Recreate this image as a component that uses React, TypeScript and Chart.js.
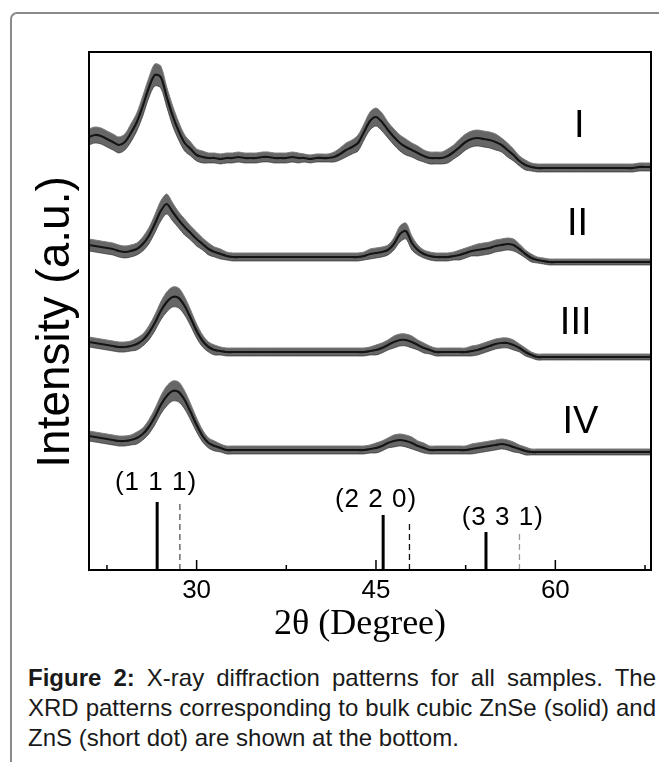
import React, { useEffect, useRef } from "react";
import { Chart, registerables } from "chart.js";

Chart.register(...registerables);

// 2θ sampling positions (degree)
const angles = [
  21, 21.5, 22, 22.5, 23, 23.5, 24, 24.5, 25, 25.5,
  26, 26.5, 27, 27.5, 28, 28.5, 29, 29.5, 30, 30.5,
  31, 31.5, 32, 32.5, 33, 33.5, 34, 34.5, 35, 35.5,
  36, 36.5, 37, 37.5, 38, 38.5, 39, 39.5, 40, 40.5,
  41, 41.5, 42, 42.5, 43, 43.5, 44, 44.5, 45, 45.5,
  46, 46.5, 47, 47.5, 48, 48.5, 49, 49.5, 50, 50.5,
  51, 51.5, 52, 52.5, 53, 53.5, 54, 54.5, 55, 55.5,
  56, 56.5, 57, 57.5, 58, 58.5, 59, 59.5, 60, 60.5,
  61, 61.5, 62, 62.5, 63, 63.5, 64, 64.5, 65, 65.5,
  66, 66.5, 67, 67.5, 68,
];

// Intensity (a.u., stacked offsets included) for samples I–IV
const sampleI = [
  433, 435, 434, 431, 428, 425, 428, 437, 448, 464,
  482, 495, 493, 473, 454, 439, 427, 421, 415, 413,
  412, 412, 411, 412, 412, 413, 412, 412, 412, 413,
  413, 412, 412, 412, 413, 412, 412, 411, 412, 412,
  412, 413, 416, 420, 423, 427, 438, 449, 453, 448,
  440, 433, 427, 423, 420, 417, 414, 412, 412, 412,
  414, 418, 423, 428, 431, 432, 431, 430, 428, 425,
  420, 415, 409, 405, 403, 402, 402, 402, 402, 402,
  402, 402, 402, 402, 402, 402, 402, 402, 402, 402,
  402, 402, 403, 403, 403,
];
const sampleII = [
  325, 324, 323, 322, 321, 319, 318, 319, 321, 326,
  334, 346, 359, 366, 358, 350, 343, 337, 331, 326,
  321, 318, 316, 314, 313, 313, 313, 313, 313, 313,
  313, 313, 313, 313, 313, 313, 313, 313, 313, 313,
  313, 313, 313, 313, 313, 313, 314, 316, 317, 318,
  320, 326, 336, 339, 327, 320, 316, 314, 313, 313,
  313, 314, 315, 317, 319, 320, 321, 322, 324, 325,
  326, 325, 321, 316, 312, 310, 309, 308, 308, 308,
  308, 308, 308, 308, 308, 308, 308, 308, 308, 308,
  308, 308, 308, 308, 308,
];
const sampleIII = [
  228, 227, 226, 225, 224, 223, 223, 224, 226, 230,
  237, 247, 259, 268, 273, 272, 264, 252, 239, 229,
  223, 220, 219, 218, 218, 218, 218, 218, 218, 218,
  218, 218, 218, 218, 218, 218, 218, 218, 218, 218,
  218, 218, 218, 218, 218, 218, 218, 219, 220, 222,
  225, 228, 230, 230, 228, 225, 222, 220, 218, 218,
  218, 218, 218, 218, 219, 220, 222, 224, 226, 227,
  227, 225, 222, 218, 215, 213, 213, 213, 213, 213,
  213, 213, 213, 213, 213, 213, 213, 213, 213, 213,
  213, 213, 213, 213, 213,
];
const sampleIV = [
  134, 133, 132, 131, 130, 129, 129, 130, 132, 136,
  143, 153, 165, 174, 179, 178, 170, 158, 145, 134,
  127, 124, 122, 120, 120, 120, 120, 120, 120, 120,
  120, 120, 120, 120, 120, 120, 120, 120, 120, 120,
  120, 120, 120, 120, 120, 120, 120, 121, 122, 124,
  127, 129, 130, 129, 127, 124, 122, 120, 120, 120,
  120, 120, 120, 120, 121, 122, 123, 124, 125, 126,
  125, 123, 121, 119, 118, 118, 118, 118, 118, 118,
  118, 118, 118, 118, 118, 118, 118, 118, 118, 118,
  118, 118, 118, 118, 118,
];

// Noise band half-width (a.u.)
const noiseI = [
  8, 8, 8, 8, 8, 8, 8, 9, 9, 10,
  10, 11, 11, 10, 10, 9, 8, 7, 6, 6,
  5, 5, 5, 5, 5, 5, 5, 5, 5, 5,
  5, 5, 5, 5, 5, 5, 4, 4, 4, 4,
  4, 5, 6, 7, 7, 8, 8, 9, 9, 9,
  8, 8, 8, 8, 7, 7, 6, 6, 6, 6,
  7, 7, 8, 8, 8, 8, 8, 8, 8, 7,
  7, 6, 5, 5, 4, 4, 4, 4, 4, 4,
  4, 4, 4, 4, 4, 4, 4, 4, 4, 4,
  4, 4, 4, 4, 4,
];
const noiseII = [
  6, 6, 6, 6, 6, 6, 6, 6, 6, 7,
  8, 9, 10, 10, 9, 8, 8, 7, 7, 6,
  6, 5, 5, 4, 4, 4, 4, 4, 4, 4,
  4, 4, 4, 4, 4, 4, 4, 4, 4, 4,
  4, 4, 4, 4, 4, 4, 4, 5, 5, 5,
  5, 6, 8, 8, 7, 5, 4, 4, 4, 4,
  4, 4, 5, 5, 5, 6, 6, 6, 6, 6,
  6, 6, 5, 4, 4, 3, 3, 3, 3, 3,
  3, 3, 3, 3, 3, 3, 3, 3, 3, 3,
  3, 3, 3, 3, 3,
];
const noiseIII = [
  5, 5, 5, 5, 5, 5, 5, 5, 6, 6,
  7, 8, 9, 10, 10, 10, 9, 8, 7, 6,
  5, 5, 4, 4, 4, 4, 4, 4, 4, 4,
  4, 4, 4, 4, 4, 4, 4, 4, 4, 4,
  4, 4, 4, 4, 4, 4, 4, 4, 5, 5,
  5, 6, 6, 6, 6, 5, 5, 4, 4, 4,
  4, 4, 4, 4, 5, 5, 5, 5, 5, 5,
  5, 5, 4, 4, 3, 3, 3, 3, 3, 3,
  3, 3, 3, 3, 3, 3, 3, 3, 3, 3,
  3, 3, 3, 3, 3,
];
const noiseIV = [
  5, 5, 5, 5, 5, 5, 5, 5, 6, 6,
  7, 8, 9, 10, 10, 10, 9, 8, 7, 6,
  5, 5, 4, 4, 4, 4, 4, 4, 4, 4,
  4, 4, 4, 4, 4, 4, 4, 4, 4, 4,
  4, 4, 4, 4, 4, 4, 4, 4, 5, 5,
  5, 6, 6, 6, 6, 5, 5, 4, 4, 4,
  4, 4, 4, 4, 5, 5, 5, 5, 5, 5,
  5, 5, 4, 4, 3, 3, 3, 3, 3, 3,
  3, 3, 3, 3, 3, 3, 3, 3, 3, 3,
  3, 3, 3, 3, 3,
];

const sampleNames = ["I", "II", "III", "IV"];
const sampleLabelAngles = [62.0, 61.85, 61.7, 62.1];
const sampleLabelIntensity = [443, 345, 246, 147];

// Bulk reference patterns
const znseAngles = [26.7, 45.6, 54.2];
const znseHeights = [68, 55, 38];
const znsAngles = [28.6, 47.8, 57.0];
const znsHeights = [67, 50, 39];
const znsColors = ["#555555", "#111111", "#9a9a9a"];
const hklLabels = ["(1 1 1)", "(2 2 0)", "(3 3 1)"];
const hklAngles = [26.6, 45.0, 55.6];
const hklIntensity = [87, 70, 52];

const xMajorTicks = [30, 45, 60];
const xMinorTicks = [22.5, 37.5, 52.5, 67.5];

const SANS = '"Liberation Sans", Arial, sans-serif';
const SERIF = '"Liberation Serif", "Times New Roman", serif';

const decorPlugin = {
  id: "decor",
  afterDatasetsDraw(chart: any) {
    const { ctx, chartArea: a, scales } = chart;
    const x = scales.x;
    const y = scales.y;
    ctx.save();
    ctx.strokeStyle = "#000";
    ctx.lineWidth = 2;
    ctx.strokeRect(a.left, a.top, a.right - a.left, a.bottom - a.top);
    ctx.lineWidth = 1.5;
    xMajorTicks.forEach((v) => {
      const px = x.getPixelForValue(v);
      ctx.beginPath();
      ctx.moveTo(px, a.bottom);
      ctx.lineTo(px, a.bottom - 10);
      ctx.stroke();
    });
    xMinorTicks.forEach((v) => {
      const px = x.getPixelForValue(v);
      ctx.beginPath();
      ctx.moveTo(px, a.bottom);
      ctx.lineTo(px, a.bottom - 5);
      ctx.stroke();
    });
    ctx.fillStyle = "#000";
    ctx.textAlign = "center";
    ctx.textBaseline = "middle";
    ctx.font = `26px ${SANS}`;
    ctx.letterSpacing = "1px";
    hklLabels.forEach((t, i) => {
      ctx.fillText(t, x.getPixelForValue(hklAngles[i]), y.getPixelForValue(hklIntensity[i]));
    });
    ctx.letterSpacing = "0px";
    ctx.font = `38px ${SANS}`;
    sampleNames.forEach((t, i) => {
      ctx.fillText(t, x.getPixelForValue(sampleLabelAngles[i]), y.getPixelForValue(sampleLabelIntensity[i]));
    });
    // axis titles
    ctx.font = `36px ${SERIF}`;
    ctx.fillText("2\u03b8 (Degree)", 360, 625);
    ctx.save();
    ctx.translate(56, 322);
    ctx.rotate(-Math.PI / 2);
    ctx.font = `46px ${SANS}`;
    ctx.fillText("Intensity (a.u.)", 0, 0);
    ctx.restore();
    ctx.restore();
  },
};

export default function App() {
  const ref = useRef<HTMLCanvasElement | null>(null);
  useEffect(() => {
    if (!ref.current) return;
    const series = [
      { v: sampleI, n: noiseI },
      { v: sampleII, n: noiseII },
      { v: sampleIII, n: noiseIII },
      { v: sampleIV, n: noiseIV },
    ];
    const datasets: any[] = [];
    series.forEach((s, k) => {
      datasets.push({
        label: `${sampleNames[k]} upper`,
        data: angles.map((a, i) => ({ x: a, y: s.v[i] + s.n[i] })),
        borderColor: "#7a7a7a",
        borderWidth: 1,
        backgroundColor: "rgba(30,30,30,0.68)",
        fill: "+1",
        pointRadius: 0,
        tension: 0.3,
      });
      datasets.push({
        label: `${sampleNames[k]} lower`,
        data: angles.map((a, i) => ({ x: a, y: s.v[i] - s.n[i] })),
        borderColor: "#7a7a7a",
        borderWidth: 1,
        fill: false,
        pointRadius: 0,
        tension: 0.3,
      });
      datasets.push({
        label: sampleNames[k],
        data: angles.map((a, i) => ({ x: a, y: s.v[i] })),
        borderColor: "#000",
        borderWidth: 2.2,
        fill: false,
        pointRadius: 0,
        tension: 0.3,
      });
    });
    znseAngles.forEach((a, i) => {
      datasets.push({
        label: `ZnSe ${hklLabels[i]}`,
        data: [{ x: a, y: 0 }, { x: a, y: znseHeights[i] }],
        borderColor: "#000",
        borderWidth: 3,
        pointRadius: 0,
        fill: false,
      });
    });
    znsAngles.forEach((a, i) => {
      datasets.push({
        label: `ZnS ${hklLabels[i]}`,
        data: [{ x: a, y: 0 }, { x: a, y: znsHeights[i] }],
        borderColor: znsColors[i],
        borderWidth: 1.3,
        borderDash: [6, 4],
        pointRadius: 0,
        fill: false,
      });
    });

    const chart = new Chart(ref.current, {
      type: "line",
      data: { datasets },
      options: {
        responsive: false,
        devicePixelRatio: 1,
        animation: false,
        layout: { padding: { left: 0, top: 52, right: 8, bottom: 0 } },
        plugins: { legend: { display: false }, tooltip: { enabled: false } },
        scales: {
          x: {
            type: "linear",
            min: 21,
            max: 68,
            afterBuildTicks: (s: any) => {
              s.ticks = xMajorTicks.map((v) => ({ value: v }));
            },
            afterFit: (s: any) => {
              s.height = 80;
            },
            ticks: {
              color: "#000",
              padding: 5,
              maxRotation: 0,
              font: { family: SANS, size: 26 },
            },
            grid: { display: false, drawTicks: false },
            border: { display: false },
          },
          y: {
            type: "linear",
            min: 0,
            max: 518,
            afterFit: (s: any) => {
              s.width = 89;
            },
            ticks: { display: false },
            grid: { display: false, drawTicks: false },
            border: { display: false },
          },
        },
      },
      plugins: [decorPlugin],
    });
    return () => chart.destroy();
  }, []);

  return (
    <div style={{ position: "absolute", left: 0, top: 0, width: 659, height: 762, background: "#fff", overflow: "hidden" }}>
      <div
        style={{
          position: "absolute",
          left: 10,
          top: 12,
          width: 700,
          height: 800,
          borderLeft: "2px solid #8a8a8a",
          borderTop: "2px solid #8a8a8a",
          borderTopLeftRadius: 7,
        }}
      />
      <canvas ref={ref} width={659} height={650} style={{ position: "absolute", left: 0, top: 0 }} />
      <div
        style={{
          position: "absolute",
          left: 28,
          top: 663,
          width: 628,
          fontFamily: SANS,
          fontSize: 24,
          lineHeight: "30px",
          textAlign: "justify",
          color: "#1a1a1a",
        }}
      >
        <b>Figure 2:</b> X-ray diffraction patterns for all samples. The XRD patterns corresponding to bulk cubic ZnSe (solid) and ZnS (short dot) are shown at the bottom.
      </div>
    </div>
  );
}
